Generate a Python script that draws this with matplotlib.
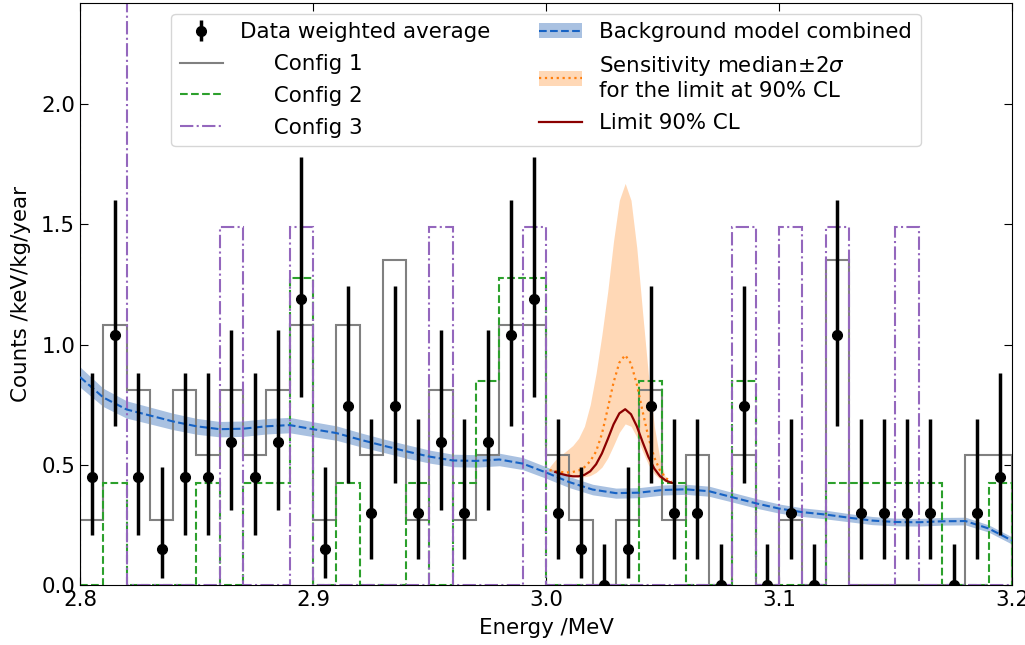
import numpy as np
import matplotlib
matplotlib.use("Agg")
import matplotlib.pyplot as plt
from matplotlib.patches import Patch

plt.rcParams['font.size'] = 15.4

# bin edges, 0.01 MeV bins
edges = np.round(np.arange(2.80, 3.2001, 0.01), 3)

config1 = [0.27, 1.08, 0.81, 0.27, 0.81, 0.54, 0.81, 0.54, 0.81, 1.08,
           0.27, 1.08, 0.54, 1.35, 0.27, 0.81, 0.27, 0.54, 1.08, 1.08,
           0.54, 0.27, 0.0, 0.27, 0.81, 0.27, 0.54, 0.0, 0.54, 0.0,
           0.27, 0.0, 1.35, 0.0, 0.0, 0.0, 0.0, 0.0, 0.54, 0.54]
config2 = [0.0, 0.425, 0.0, 0.0, 0.0, 0.425, 0.0, 0.425, 0.425, 1.275,
           0.0, 0.425, 0.0, 0.0, 0.425, 0.0, 0.425, 0.85, 1.275, 1.275,
           0.0, 0.0, 0.0, 0.0, 0.85, 0.425, 0.0, 0.0, 0.85, 0.0,
           0.0, 0.0, 0.425, 0.425, 0.425, 0.425, 0.425, 0.0, 0.0, 0.425]
config3 = [2.98, 2.98, 0.0, 0.0, 0.0, 0.0, 1.49, 0.0, 0.0, 1.49,
           0.0, 0.0, 0.0, 0.0, 0.0, 1.49, 0.0, 0.0, 0.0, 1.49,
           0.0, 0.0, 0.0, 0.0, 0.0, 0.0, 0.0, 0.0, 1.49, 0.0,
           1.49, 0.0, 1.49, 0.0, 0.0, 1.49, 0.0, 0.0, 0.0, 0.0]

# weighted average data with its interval
data_x = np.round(np.arange(2.805, 3.2, 0.01), 3)
data_y = [0.45, 1.04, 0.45, 0.15, 0.45, 0.45, 0.595, 0.45, 0.595, 1.19,
          0.15, 0.745, 0.30, 0.745, 0.30, 0.595, 0.30, 0.595, 1.04, 1.19,
          0.30, 0.15, 0.0, 0.15, 0.745, 0.30, 0.30, 0.0, 0.745, 0.0,
          0.30, 0.0, 1.04, 0.30, 0.30, 0.30, 0.30, 0.0, 0.30, 0.45]
data_lo = [0.21, 0.66, 0.21, 0.03, 0.21, 0.21, 0.31, 0.21, 0.31, 0.78,
           0.03, 0.425, 0.11, 0.425, 0.11, 0.31, 0.11, 0.31, 0.66, 0.78,
           0.11, 0.03, 0.0, 0.03, 0.425, 0.11, 0.11, 0.0, 0.425, 0.0,
           0.11, 0.0, 0.66, 0.11, 0.11, 0.11, 0.11, 0.0, 0.11, 0.21]
data_hi = [0.88, 1.60, 0.88, 0.49, 0.88, 0.88, 1.06, 0.88, 1.06, 1.78,
           0.49, 1.245, 0.69, 1.245, 0.69, 1.06, 0.69, 1.06, 1.60, 1.78,
           0.69, 0.49, 0.17, 0.49, 1.245, 0.69, 0.69, 0.17, 1.245, 0.17,
           0.69, 0.17, 1.60, 0.69, 0.69, 0.69, 0.69, 0.17, 0.69, 0.88]

# combined background model
bg_x = edges
bg = [0.865, 0.78, 0.73, 0.705, 0.68, 0.66, 0.648, 0.65, 0.66, 0.665,
      0.648, 0.632, 0.605, 0.58, 0.556, 0.534, 0.518, 0.516, 0.522, 0.505,
      0.468, 0.428, 0.397, 0.382, 0.384, 0.395, 0.398, 0.39, 0.365, 0.34,
      0.318, 0.303, 0.293, 0.28, 0.268, 0.262, 0.261, 0.265, 0.266, 0.235,
      0.185]
bg_err = [0.042, 0.038, 0.036, 0.035, 0.034, 0.033, 0.032, 0.032, 0.032, 0.032,
          0.031, 0.030, 0.029, 0.028, 0.028, 0.027, 0.026, 0.026, 0.026, 0.025,
          0.024, 0.023, 0.022, 0.021, 0.021, 0.021, 0.021, 0.021, 0.020, 0.020,
          0.019, 0.018, 0.018, 0.017, 0.017, 0.016, 0.016, 0.016, 0.016, 0.015,
          0.015]

# signal peak region: sensitivity band, median and 90% CL limit
sig_x = np.round(np.arange(3.0015, 3.0541, 0.0025), 4)
sens_lo = [0.475, 0.468, 0.462, 0.456, 0.452, 0.450, 0.450, 0.455, 0.468, 0.490,
           0.528, 0.580, 0.635, 0.670, 0.660, 0.615, 0.555, 0.500, 0.462, 0.440,
           0.428, 0.420]
sens_hi = [0.49, 0.52, 0.54, 0.56, 0.58, 0.61, 0.66, 0.75, 0.88, 1.04,
           1.22, 1.43, 1.60, 1.67, 1.60, 1.40, 1.13, 0.87, 0.66, 0.52,
           0.44, 0.42]
sens_med = [0.478, 0.474, 0.470, 0.468, 0.470, 0.476, 0.490, 0.515, 0.555, 0.628,
            0.733, 0.842, 0.925, 0.956, 0.921, 0.834, 0.721, 0.613, 0.530, 0.475,
            0.444, 0.429]
limit = [np.nan, 0.470, 0.462, 0.456, 0.452, 0.452, 0.458, 0.473, 0.502, 0.547,
         0.606, 0.668, 0.714, 0.731, 0.710, 0.660, 0.594, 0.532, 0.484, 0.452,
         0.434, 0.425]

fig = plt.figure(figsize=(10.25, 6.45), dpi=100)
ax = fig.add_axes([0.078, 0.093, 0.9093, 0.9023])

ax.stairs(config1, edges, baseline=0, color='grey', lw=1.5, zorder=2)
ax.stairs(config2, edges, baseline=0, color='tab:green', lw=1.5, ls='--', zorder=2)
ax.stairs(config3, edges, baseline=0, color='tab:purple', lw=1.5, ls='-.', zorder=2)

bg_lo = np.array(bg) - np.array(bg_err)
bg_hi = np.array(bg) + np.array(bg_err)
ax.fill_between(bg_x, bg_lo, bg_hi, color='#a9c1e1', lw=0, zorder=1)
bg_line, = ax.plot(bg_x, bg, color='#1662c4', ls='--', lw=1.5, zorder=3)

ax.fill_between(sig_x, sens_lo, sens_hi, color='tab:orange', alpha=0.3, lw=0, zorder=1)
med_line, = ax.plot(sig_x, sens_med, color='tab:orange', ls=':', lw=1.6, zorder=3)
lim_line, = ax.plot(sig_x, limit, color='darkred', lw=1.6, zorder=3)

yerr = [np.array(data_y) - np.array(data_lo), np.array(data_hi) - np.array(data_y)]
data = ax.errorbar(data_x, data_y, yerr=yerr, fmt='o', color='black', ms=7,
                   elinewidth=2.5, capsize=0, zorder=4)

ax.set_xlim(2.8, 3.2)
ax.set_ylim(0, 2.42)
ax.set_xticks([2.8, 2.9, 3.0, 3.1, 3.2])
ax.set_yticks([0.0, 0.5, 1.0, 1.5, 2.0])
ax.tick_params(direction='in', top=True, right=True, length=6)
ax.set_xlabel('Energy /MeV', labelpad=6)
ax.set_ylabel('Counts /keV/kg/year', labelpad=7)

h_c1 = plt.Line2D([], [], color='grey', lw=1.5)
h_c2 = plt.Line2D([], [], color='tab:green', lw=1.5, ls='--')
h_c3 = plt.Line2D([], [], color='tab:purple', lw=1.5, ls='-.')
h_bg = (Patch(color='#a9c1e1', lw=0), bg_line)
h_sens = (Patch(color='tab:orange', alpha=0.3, lw=0), med_line)

handles = [data, h_c1, h_c2, h_c3, h_bg, h_sens, lim_line]
labels = ['Data weighted average', '     Config 1', '     Config 2', '     Config 3',
          'Background model combined',
          'Sensitivity median$\\pm2\\sigma$\nfor the limit at 90% CL',
          'Limit 90% CL']
ax.legend(handles, labels, loc='upper center', ncol=2, labelspacing=0.55,
          columnspacing=2.3)

fig.savefig('out.png', dpi=100)
